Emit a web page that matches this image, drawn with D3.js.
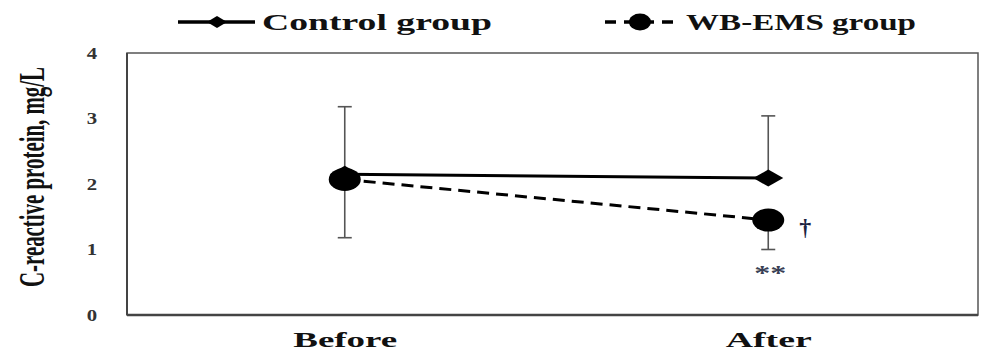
<!DOCTYPE html>
<html><head><meta charset="utf-8">
<script src="https://cdn.jsdelivr.net/npm/d3@7"></script>
<style>body{margin:0;background:#fff}svg{display:block}text{font-family:"Liberation Serif","Times New Roman",serif;font-weight:bold}</style>
</head><body>
<svg id="c" width="983" height="351"></svg>
<script>
const categories = ["Before", "After"];
const yTicks = [0, 1, 2, 3, 4];
const seriesNames = ["Control group", "WB-EMS group"];
const controlValues = [2.15, 2.09];
const wbemsValues = [2.07, 1.45];
// error bar ends [low, high]; null = hidden/one-sided
const controlErr = [[1.18, 3.18], [null, 3.04]];
const wbemsErr = [[null, null], [1.0, null]];
const annotations = [{cat: "After", text: "†"}, {cat: "After", text: "**"}];

const svg = d3.select("#c");
const box = {l: 127, r: 978, t: 53, b: 315};
const x = d3.scalePoint().domain(categories).range([133, 980]).padding(0.5);
const y = d3.scaleLinear().domain([0, 4]).range([box.b, box.t]);

// frame
svg.append("rect").attr("x", box.l).attr("y", box.t).attr("width", box.r - box.l).attr("height", box.b - box.t)
  .attr("fill", "none").attr("stroke", "#555").attr("stroke-width", 1.5);
svg.append("line").attr("x1", box.l).attr("x2", box.r).attr("y1", box.b).attr("y2", box.b).attr("stroke", "#444").attr("stroke-width", 2.5);
svg.append("line").attr("x1", box.l).attr("x2", box.l).attr("y1", box.t).attr("y2", box.b).attr("stroke", "#444").attr("stroke-width", 2);

// y ticks
const yAxis = svg.append("g").attr("transform", `translate(${box.l},0)`)
  .call(d3.axisLeft(y).tickValues(yTicks).tickSize(0).tickPadding(30).tickFormat(d3.format("d")));
yAxis.select(".domain").remove();
yAxis.selectAll(".tick text").each(function(){
  d3.select(this).attr("x", null).attr("text-anchor", "middle")
    .attr("transform", "translate(-35,0) scale(1.3,1)")
    .style("font-family", '"Liberation Serif",serif').style("font-weight", "bold")
    .style("font-size", "16px").attr("fill", "#333");
});

// x labels
const xAxis = svg.append("g").attr("transform", `translate(0,${box.b})`)
  .call(d3.axisBottom(x).tickSize(0).tickPadding(16));
xAxis.select(".domain").remove();
xAxis.selectAll("text").style("font-family", '"Liberation Serif",serif').style("font-weight", "bold")
  .style("font-size", "22px").attr("fill", "#111")
  .attr("textLength", d => d === "Before" ? 104 : 86).attr("lengthAdjust", "spacingAndGlyphs");

// y label
svg.append("text").attr("transform", "translate(44,177) scale(1.75,1) rotate(-90)")
  .attr("text-anchor", "middle").attr("font-size", "20px").attr("fill", "#111")
  .attr("textLength", 220).attr("lengthAdjust", "spacingAndGlyphs")
  .text("C-reactive protein, mg/L");

// error bars
const cap = 7;
function errBars(vals, errs) {
  categories.forEach((c, i) => {
    const [lo, hi] = errs[i];
    const cx = x(c);
    [lo, hi].forEach(e => {
      if (e == null) return;
      svg.append("line").attr("x1", cx).attr("x2", cx).attr("y1", y(vals[i])).attr("y2", y(e))
        .attr("stroke", "#555").attr("stroke-width", 1.6);
      svg.append("line").attr("x1", cx - cap).attr("x2", cx + cap).attr("y1", y(e)).attr("y2", y(e))
        .attr("stroke", "#555").attr("stroke-width", 1.6);
    });
  });
}
errBars(controlValues, controlErr);
errBars(wbemsValues, wbemsErr);

// lines
const line = d3.line().x((d, i) => x(categories[i])).y(d => y(d));
svg.append("path").datum(controlValues).attr("d", line).attr("fill", "none").attr("stroke", "#000").attr("stroke-width", 3);
svg.append("path").datum(wbemsValues).attr("d", line).attr("fill", "none").attr("stroke", "#000").attr("stroke-width", 3)
  .attr("stroke-dasharray", "12,7");

// markers
function diamond(cx, cy, w, h) {
  return `M${cx - w / 2},${cy}L${cx},${cy - h / 2}L${cx + w / 2},${cy}L${cx},${cy + h / 2}Z`;
}
controlValues.forEach((v, i) => {
  svg.append("path").attr("d", diamond(x(categories[i]), y(v), 30, 17)).attr("fill", "#000");
});
wbemsValues.forEach((v, i) => {
  svg.append("ellipse").attr("cx", x(categories[i])).attr("cy", y(v)).attr("rx", 16).attr("ry", 11.5).attr("fill", "#000");
});

// annotations
const ai = categories.indexOf("After");
svg.append("text").attr("x", x("After") + 37).attr("y", y(wbemsValues[ai]) + 15).attr("text-anchor", "middle")
  .attr("font-size", "24px").attr("fill", "#1b2340").attr("transform", null).text(annotations[0].text);
svg.append("text").attr("x", x("After") + 2).attr("y", y(wbemsErr[ai][0]) + 30).attr("text-anchor", "middle")
  .attr("font-size", "20px").attr("fill", "#3a3f55").attr("textLength", 32).attr("lengthAdjust", "spacingAndGlyphs")
  .text(annotations[1].text);

// legend
const lg = svg.append("g");
lg.append("line").attr("x1", 178).attr("x2", 255).attr("y1", 22).attr("y2", 22).attr("stroke", "#000").attr("stroke-width", 3.5);
lg.append("path").attr("d", diamond(217, 22, 20, 12)).attr("fill", "#000");
lg.append("text").attr("x", 262).attr("y", 30).attr("font-size", "23px").attr("fill", "#111")
  .attr("textLength", 230).attr("lengthAdjust", "spacingAndGlyphs").text(seriesNames[0]);
lg.append("line").attr("x1", 605).attr("x2", 676).attr("y1", 22).attr("y2", 22).attr("stroke", "#000").attr("stroke-width", 3.5)
  .attr("stroke-dasharray", "11,8");
lg.append("ellipse").attr("cx", 640).attr("cy", 22).attr("rx", 11).attr("ry", 8.5).attr("fill", "#000");
lg.append("text").attr("x", 686).attr("y", 30).attr("font-size", "23px").attr("fill", "#111")
  .attr("textLength", 230).attr("lengthAdjust", "spacingAndGlyphs").text(seriesNames[1]);
</script>
</body></html>
